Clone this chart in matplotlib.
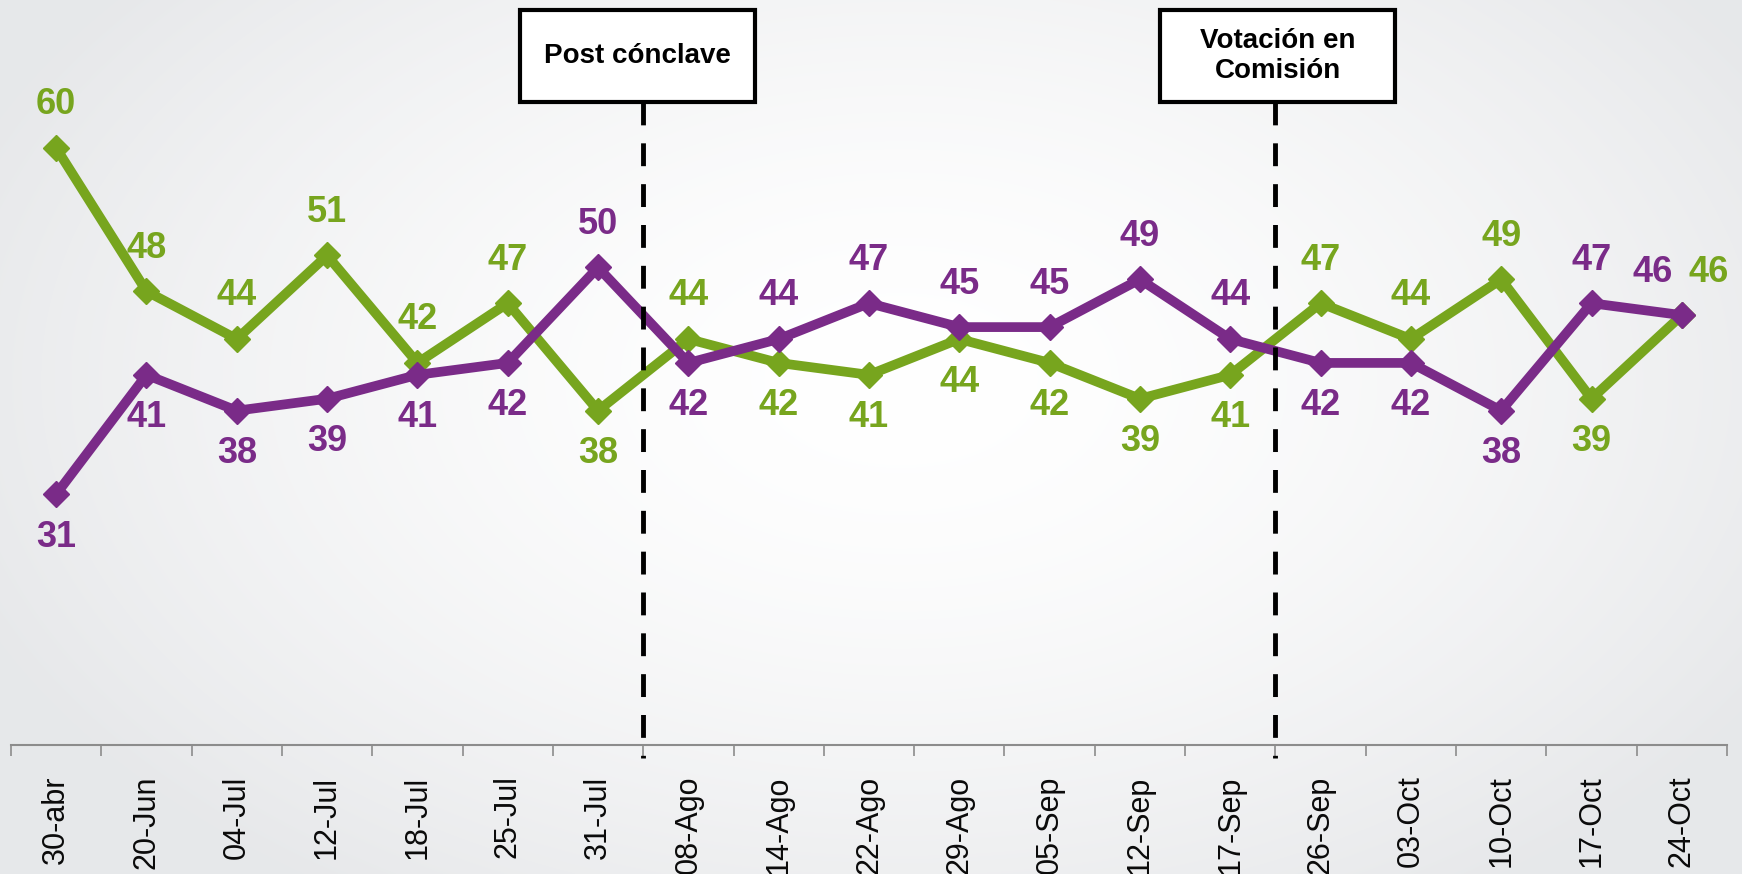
import numpy as np
import matplotlib
matplotlib.use('Agg')
import matplotlib.pyplot as plt
from matplotlib.patches import Rectangle

plt.rcParams['font.family'] = ['Liberation Sans', 'DejaVu Sans']

# datos
fechas = ['30-abr', '20-Jun', '04-Jul', '12-Jul', '18-Jul', '25-Jul', '31-Jul',
          '08-Ago', '14-Ago', '22-Ago', '29-Ago', '05-Sep', '12-Sep', '17-Sep',
          '26-Sep', '03-Oct', '10-Oct', '17-Oct', '24-Oct']
verde = [60, 48, 44, 51, 42, 47, 38, 44, 42, 41, 44, 42, 39, 41, 47, 44, 49, 39, 46]
morado = [31, 41, 38, 39, 41, 42, 50, 42, 44, 47, 45, 45, 49, 44, 42, 42, 38, 47, 46]
eventos = ['Post cónclave', 'Votación en\nComisión']
evento_despues_de = ['31-Jul', '17-Sep']

VERDE = '#77A51E'
MORADO = '#7A2B88'

W, H = 1742, 874
fig = plt.figure(figsize=(W / 100, H / 100), dpi=100)

# fondo con degradado radial
bg = fig.add_axes([0, 0, 1, 1], zorder=-10)
yy, xx = np.mgrid[0:H, 0:W]
r = np.sqrt(((xx - 900) / 1000.0) ** 2 + ((yy - 380) / 620.0) ** 2)
t = np.clip(r, 0, 1) ** 1.6
c0 = np.array([1.0, 1.0, 1.0])
c1 = np.array([0.905, 0.910, 0.918])
img = c0[None, None, :] * (1 - t[..., None]) + c1[None, None, :] * t[..., None]
bg.imshow(img, aspect='auto', extent=[0, 1, 0, 1])
bg.axis('off')

ax_bottom = 1 - 745 / H
ax_top = 1 - 28.6 / H
ax = fig.add_axes([11 / W, ax_bottom, 1716 / W, ax_top - ax_bottom])
ax.patch.set_alpha(0)

x = np.arange(len(fechas))
ax.plot(x, verde, color=VERDE, lw=7, marker='D', ms=13.5, zorder=3,
        solid_joinstyle='miter')
ax.plot(x, morado, color=MORADO, lw=7, marker='D', ms=13.5, zorder=3,
        solid_joinstyle='miter')

off = 31
for i in range(len(fechas)):
    g, p = verde[i], morado[i]
    if g == p:
        ax.annotate(str(g), (i, g), xytext=(19, off), textcoords='offset points',
                    ha='center', va='center', color=VERDE, fontsize=26, fontweight='bold')
        ax.annotate(str(p), (i, p), xytext=(-21, off), textcoords='offset points',
                    ha='center', va='center', color=MORADO, fontsize=26, fontweight='bold')
        continue
    dg = off if g > p else -off
    ax.annotate(str(g), (i, g), xytext=(0, dg), textcoords='offset points',
                ha='center', va='center', color=VERDE, fontsize=26, fontweight='bold')
    ax.annotate(str(p), (i, p), xytext=(0, -dg), textcoords='offset points',
                ha='center', va='center', color=MORADO, fontsize=26, fontweight='bold')

ax.set_xlim(-0.5, len(fechas) - 0.5)
ax.set_ylim(10, 70)
ax.set_yticks([])
for s in ['left', 'right', 'top']:
    ax.spines[s].set_visible(False)
ax.spines['bottom'].set_color('#8c8c8c')
ax.spines['bottom'].set_linewidth(1.5)

ax.set_xticks(x)
ax.set_xticklabels(fechas, rotation=90, fontsize=22, color='#0a0a0a', va='top', ha='center')
ax.tick_params(axis='x', which='major', length=0, pad=22)
ax.set_xticks(np.arange(-0.5, len(fechas), 1.0), minor=True)
ax.tick_params(axis='x', which='minor', length=8, width=1.2, color='#8c8c8c', direction='out')

# líneas de evento y recuadros
cajas_x = [520, 1160]
for texto, fecha, bx in zip(eventos, evento_despues_de, cajas_x):
    xv = fechas.index(fecha) + 0.5
    ax.plot([xv, xv], [(745 - 102) / 716.4, -0.018], transform=ax.get_xaxis_transform(),
            color='black', lw=3.5, dashes=(4.7, 3.7), clip_on=False, zorder=4,
            dash_capstyle='butt')
    rect = Rectangle((bx / W, 1 - 102 / H), 235 / W, 92 / H, transform=fig.transFigure,
                     facecolor='white', edgecolor='black', lw=3, zorder=5)
    fig.patches.append(rect)
    fig.text((bx + 117.5) / W, 1 - 56 / H, texto, ha='center', va='center',
             fontsize=20, fontweight='bold', color='black', linespacing=1.15, zorder=6)

fig.savefig('out.png', dpi=100)
